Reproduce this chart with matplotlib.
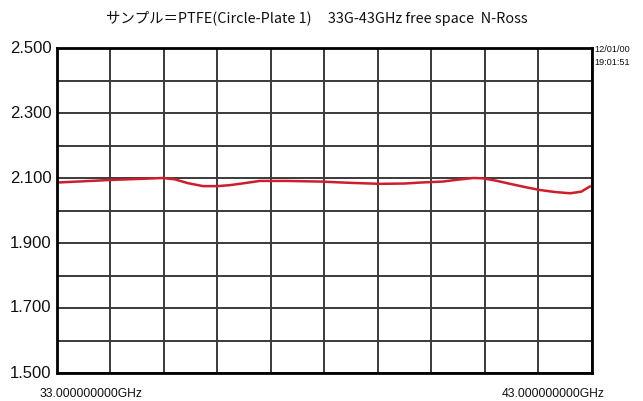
import matplotlib
matplotlib.use("Agg")
import matplotlib.pyplot as plt
import numpy as np

freq_ghz = [33.0, 33.5, 34.0, 34.5, 34.98, 35.2, 35.45, 35.73, 36.0, 36.23, 36.5, 36.79,
            37.3, 37.92, 38.5, 39.04, 39.5, 39.79, 40.21, 40.5, 40.78, 40.96, 41.2,
            41.47, 41.75, 42.03, 42.3, 42.59, 42.8, 42.96]
eps = [2.086, 2.090, 2.094, 2.097, 2.100, 2.096, 2.084, 2.075, 2.075, 2.078, 2.084, 2.091,
       2.091, 2.089, 2.085, 2.082, 2.083, 2.086, 2.089, 2.095, 2.100, 2.099, 2.092,
       2.082, 2.072, 2.063, 2.057, 2.053, 2.058, 2.074]

y_ticks = [1.5, 1.7, 1.9, 2.1, 2.3, 2.5]
y_labels = ["1.500", "1.700", "1.900", "2.100", "2.300", "2.500"]
title = "サンプル＝PTFE(Circle-Plate 1)     33G-43GHz free space  N-Ross"
x_start_label = "33.000000000GHz"
x_end_label = "43.000000000GHz"
stamp = "12/01/00\n19:01:51"

fig = plt.figure(figsize=(6.43, 4.01), dpi=100)
ax = fig.add_axes([57/643, 28/401, (592-57)/643, (373-48)/401])

ax.set_xlim(33, 43)
ax.set_ylim(1.5, 2.5)
ax.set_xticks(np.arange(33, 43.01, 1.0))
ax.set_yticks(np.arange(1.5, 2.501, 0.1), minor=False)
ax.grid(True, color="#3a3a3a", linewidth=1.4)
ax.tick_params(length=0)
ax.set_xticklabels([])
ax.set_yticklabels([])
for s in ax.spines.values():
    s.set_linewidth(2.0)
    s.set_color("black")

for v, lab in zip(y_ticks, y_labels):
    ax.text(-0.01, v, lab, transform=ax.get_yaxis_transform(), ha="right", va="center",
            fontsize=12, family=["Liberation Sans"], color="#111111")

ax.plot(freq_ghz, eps, color="#cc1f2b", linewidth=1.8)

fig.text(317/643, 1 - 19/401, title, ha="center", va="center", fontsize=10.4,
         family=["Noto Sans CJK JP", "DejaVu Sans"], color="#111111")
fig.text(91/643, 1 - 394/401, x_start_label, ha="center", va="center", fontsize=8.7,
         family=["Liberation Sans"], color="#111111")
fig.text(553/643, 1 - 394/401, x_end_label, ha="center", va="center", fontsize=8.7,
         family=["Liberation Sans"], color="#111111")
fig.text(594/643, 1 - 56/401, stamp, ha="left", va="center", fontsize=6.6,
         family=["Liberation Sans"], color="#111111", linespacing=1.7)

fig.savefig("out.png", dpi=100)
